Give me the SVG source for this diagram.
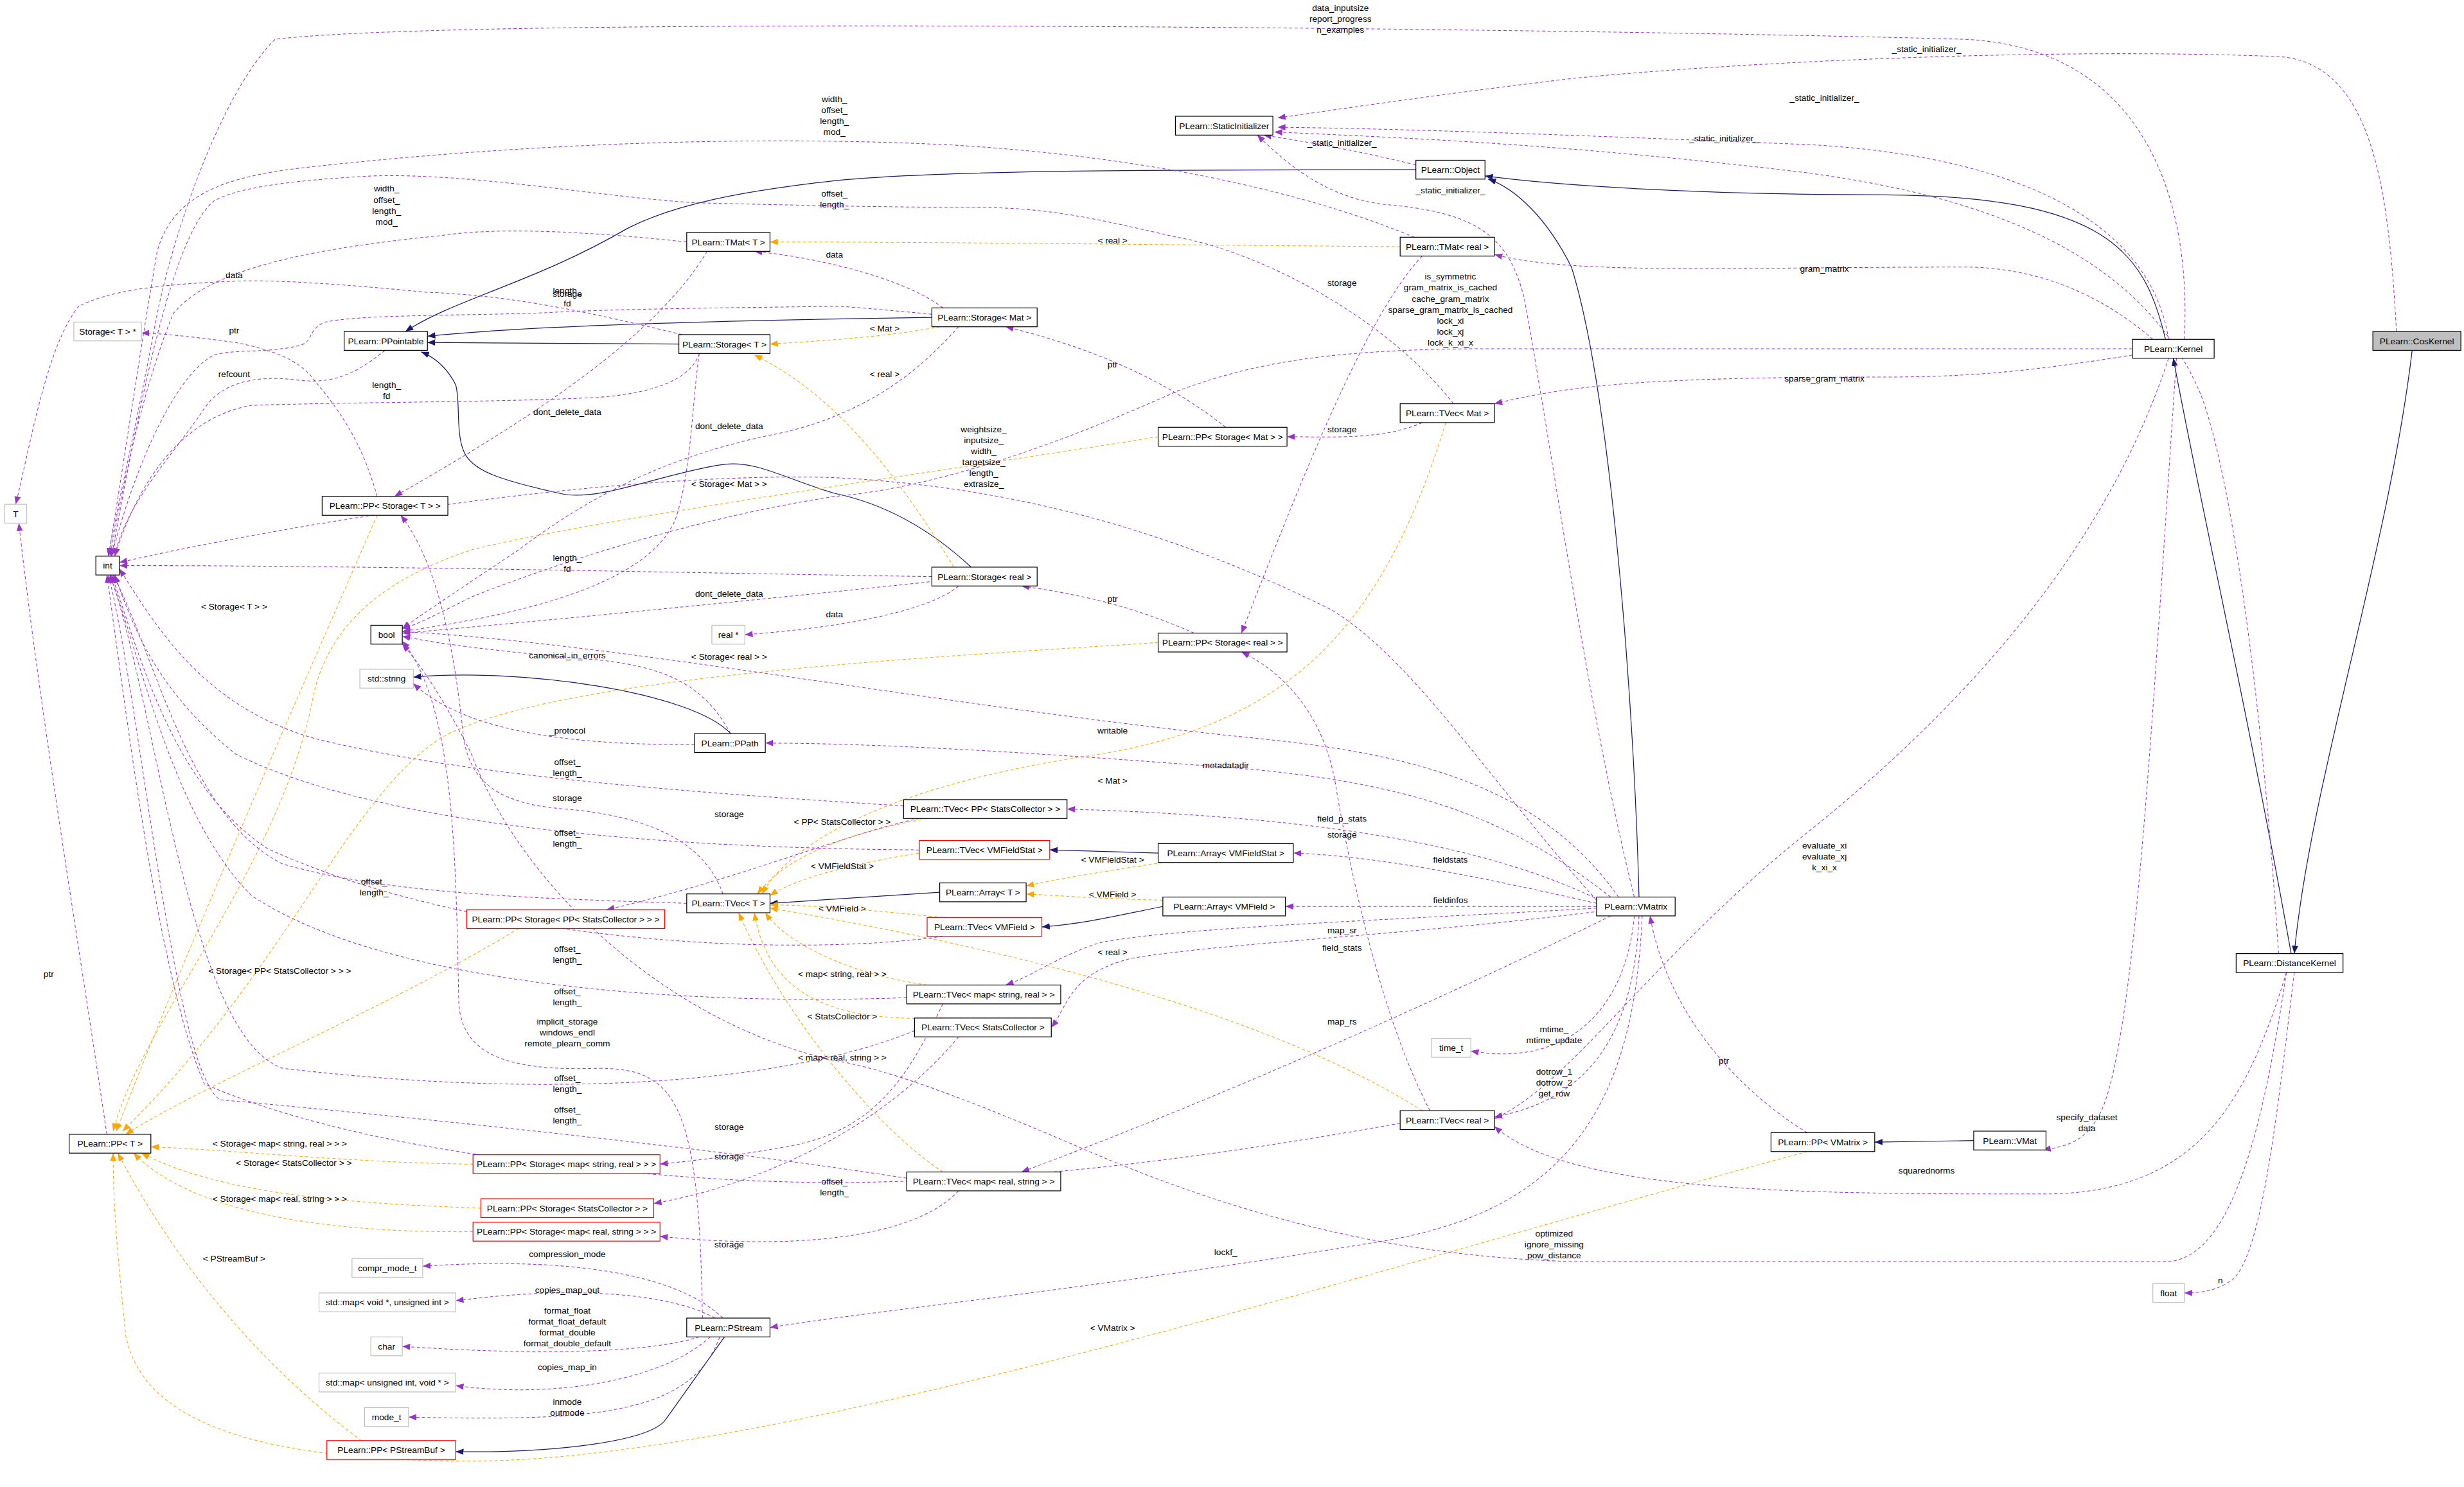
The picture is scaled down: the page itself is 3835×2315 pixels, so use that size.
<svg xmlns="http://www.w3.org/2000/svg" width="3835" height="2315" viewBox="0 0 3835 2315">
<style>
text{font-family:"Liberation Sans",Arial,sans-serif;font-size:5.6px;fill:#000;text-anchor:middle}
.n rect{fill:#fff;stroke:#000;stroke-width:0.5}
.g rect{fill:#fff;stroke:#bfbfbf;stroke-width:0.5}
.r rect{fill:#fff;stroke:#ff0000;stroke-width:0.5}
.c rect{fill:#bfbfbf;stroke:#000;stroke-width:0.5}
.m{fill:none;stroke:#9a32cd;stroke-width:0.42;stroke-dasharray:2,1.5;marker-end:url(#ap)}
.t{fill:none;stroke:#ffa500;stroke-width:0.42;stroke-dasharray:2,1.5;marker-end:url(#ao)}
.i{fill:none;stroke:#191970;stroke-width:0.5;marker-end:url(#an)}
</style>
<defs>
<marker id="ap" markerUnits="userSpaceOnUse" markerWidth="5" markerHeight="4" refX="5" refY="2" orient="auto"><path d="M0,0L5,2L0,4z" fill="#9a32cd"/></marker>
<marker id="ao" markerUnits="userSpaceOnUse" markerWidth="5" markerHeight="4" refX="5" refY="2" orient="auto"><path d="M0,0L5,2L0,4z" fill="#ffa500"/></marker>
<marker id="an" markerUnits="userSpaceOnUse" markerWidth="5" markerHeight="4" refX="5" refY="2" orient="auto"><path d="M0,0L5,2L0,4z" fill="#191970"/></marker>
</defs>
<rect width="3835" height="2315" fill="#fff"/>
<g transform="scale(2.4458)">
<g id="edges">
<path class="i" d="M1535,223C1520,350 1470,500 1460,607"/>
<path class="i" d="M1458,607C1430,450 1400,320 1383,228"/>
<path class="i" d="M1378,216C1365,160 1340,125 1200,124C1080,124 990,118 945,112"/>
<path class="i" d="M1043,571C1040,450 1025,250 1000,170C985,140 965,120 947,114"/>
<path class="i" d="M901,108C750,108 600,108 531,115C470,122 430,130 400,145C340,180 290,190 258,211"/>
<path class="i" d="M593,202C450,204 330,208 272,214"/>
<path class="i" d="M432,219L272,218"/>
<path class="i" d="M618,361C590,335 560,320 531,314C500,305 480,292 458,296C420,302 380,320 356,314C320,306 300,300 295,287C290,275 293,255 290,245C285,235 278,228 268,224"/>
<path class="i" d="M598,568L490,575"/>
<path class="i" d="M737,543L668,541"/>
<path class="i" d="M740,577C710,583 690,588 663,590"/>
<path class="i" d="M461,851L424,903C415,918 350,925 290,924"/>
<path class="i" d="M1256,726L1193,727"/>
<path class="i" d="M465,467C440,440 330,425 263,431"/>
<path class="t" d="M891,157C750,156 600,154 490,154"/>
<path class="t" d="M598,208C560,215 520,217 490,219"/>
<path class="t" d="M607,361C570,300 530,250 480,226"/>
<path class="t" d="M737,278C600,300 380,330 300,350C240,370 210,400 200,440C180,550 90,650 72,720"/>
<path class="t" d="M240,328C200,420 120,600 74,720"/>
<path class="t" d="M737,409C600,418 350,430 280,470C220,510 180,620 78,720"/>
<path class="t" d="M920,269C880,400 820,460 700,480C560,500 500,540 485,569"/>
<path class="t" d="M590,521C540,530 500,545 482,569"/>
<path class="t" d="M585,543C540,550 505,560 490,570"/>
<path class="t" d="M740,549C700,555 670,560 653,564"/>
<path class="t" d="M740,573C700,572 670,570 653,569"/>
<path class="t" d="M600,584C560,580 520,576 490,576"/>
<path class="t" d="M905,707C800,640 620,600 490,578"/>
<path class="t" d="M590,627C540,620 500,600 487,581"/>
<path class="t" d="M600,648C540,650 490,640 480,581"/>
<path class="t" d="M600,746C560,720 500,650 470,581"/>
<path class="t" d="M330,591C250,640 130,690 80,722"/>
<path class="t" d="M301,741C220,740 150,732 96,730"/>
<path class="t" d="M306,769C220,766 140,760 90,734"/>
<path class="t" d="M301,784C200,785 120,770 85,734"/>
<path class="t" d="M230,917C180,880 120,820 75,734"/>
<path class="t" d="M1150,733C900,800 500,930 300,930C150,930 90,900 80,850C75,800 72,770 72,734"/>
<path class="m" d="M901,105C860,95 830,90 804,86"/>
<path class="m" d="M1380,216C1370,150 1300,100 1150,92C1000,86 900,82 813,81"/>
<path class="m" d="M1525,211C1520,120 1510,40 1450,36C1300,30 1100,40 1000,50C900,62 850,70 813,75"/>
<path class="m" d="M1040,571C1010,450 990,300 970,190C960,150 940,135 880,130C840,125 815,100 800,86"/>
<path class="m" d="M1450,607C1440,450 1420,300 1400,250C1370,180 1300,130 1150,110C1000,92 900,88 811,84"/>
<path class="m" d="M1390,216C1395,120 1360,30 1250,25C1000,18 300,10 175,25C140,60 110,150 100,200C85,280 75,320 69,354"/>
<path class="m" d="M437,154C380,148 320,144 280,150C180,160 130,175 110,200C90,250 78,310 70,354"/>
<path class="m" d="M900,151C850,130 750,100 600,92C450,85 300,95 200,106C140,112 110,125 100,160C88,230 78,300 69,354"/>
<path class="m" d="M925,257C880,200 800,160 749,151C700,140 670,132 620,132C560,132 480,130 441,129C380,125 300,110 237,112C180,115 150,120 136,128C110,150 90,250 71,354"/>
<path class="m" d="M434,213C360,195 320,188 271,186C210,180 170,178 149,179C100,181 70,185 50,195C30,220 20,280 10,321"/>
<path class="m" d="M600,196C580,180 530,165 480,160"/>
<path class="m" d="M593,200C560,197 540,195 531,195C450,196 380,197 349,199C300,201 230,200 207,205C195,210 200,218 190,220C170,225 150,222 136,226C110,240 85,300 71,354"/>
<path class="m" d="M905,269C880,280 850,278 819,278"/>
<path class="m" d="M780,272C740,240 690,220 640,208"/>
<path class="m" d="M240,316C230,280 215,260 200,242C190,228 170,222 150,218C120,214 100,212 90,212"/>
<path class="m" d="M245,223C230,235 215,245 190,242C160,238 140,245 130,260C110,290 80,320 73,354"/>
<path class="m" d="M445,225C440,240 420,250 380,253C320,256 220,256 160,258C120,265 90,300 73,354"/>
<path class="m" d="M445,225C440,260 440,300 430,330C410,380 300,395 256,402"/>
<path class="m" d="M610,208C590,230 560,260 500,275C420,290 370,320 330,350C300,370 270,390 256,400"/>
<path class="m" d="M450,160C420,210 350,260 251,316"/>
<path class="m" d="M593,367C450,365 250,360 76,360"/>
<path class="m" d="M595,370C500,380 350,395 256,403"/>
<path class="m" d="M610,373C590,390 530,400 474,404"/>
<path class="m" d="M760,403C730,390 700,380 650,373"/>
<path class="m" d="M905,163C870,200 830,300 790,403"/>
<path class="m" d="M910,707C880,650 860,560 850,500C840,440 800,420 790,415"/>
<path class="m" d="M465,467C450,440 430,425 380,420C320,415 280,410 256,405"/>
<path class="m" d="M442,474C380,474 300,470 263,435"/>
<path class="m" d="M1030,571C980,500 900,480 800,470C600,450 400,410 256,402"/>
<path class="m" d="M1025,571C960,520 900,500 800,490C650,478 550,473 487,473"/>
<path class="m" d="M1018,573C950,540 850,520 679,515"/>
<path class="m" d="M1016,575C950,560 880,545 823,543"/>
<path class="m" d="M1016,577L818,577"/>
<path class="m" d="M1016,578C900,585 750,590 700,600C670,610 660,620 640,627"/>
<path class="m" d="M1018,580C900,595 780,600 720,610C680,620 680,640 669,654"/>
<path class="m" d="M1025,583C950,620 800,690 650,746"/>
<path class="m" d="M1040,583C1035,640 1000,680 936,669"/>
<path class="m" d="M1043,583C1040,660 1010,700 951,711"/>
<path class="m" d="M1045,583C1040,700 1000,770 880,790C700,820 550,835 490,845"/>
<path class="m" d="M1150,721C1100,690 1060,640 1050,583"/>
<path class="m" d="M1016,573C950,500 900,420 847,388C750,340 650,310 531,304C400,300 200,330 76,358"/>
<path class="m" d="M1357,222L950,222C850,222 800,230 749,249C680,280 600,310 531,316C440,330 350,360 300,380C280,390 265,398 256,400"/>
<path class="m" d="M1370,216C1340,190 1300,170 1250,170C1100,170 1000,175 951,162"/>
<path class="m" d="M1357,226C1300,235 1260,240 1200,240C1050,240 1000,245 951,257"/>
<path class="m" d="M1380,228C1340,350 1250,450 1150,530C1050,610 1000,690 951,712"/>
<path class="m" d="M1385,228C1370,450 1360,640 1340,700C1330,730 1310,730 1300,732"/>
<path class="m" d="M1455,619C1430,700 1400,760 1300,760C1150,760 1000,760 951,717"/>
<path class="m" d="M1455,619C1440,720 1420,800 1380,803L1000,803C900,800 800,780 684,729C600,693 560,680 531,675C420,650 330,560 300,480C280,440 265,420 256,410"/>
<path class="m" d="M1460,619C1450,700 1440,800 1420,815C1410,822 1400,823 1390,823"/>
<path class="m" d="M460,569C450,540 420,520 360,515C320,512 300,500 295,470C290,420 280,360 255,328"/>
<path class="m" d="M585,521C540,530 470,560 386,579"/>
<path class="m" d="M575,513C450,505 300,495 200,470C130,450 100,400 76,362"/>
<path class="m" d="M585,541C450,540 250,530 150,480C100,440 85,400 73,366"/>
<path class="m" d="M437,575C350,572 250,570 180,550C120,520 100,420 72,366"/>
<path class="m" d="M600,596C500,610 300,600 170,540C110,500 90,420 71,366"/>
<path class="m" d="M577,635C450,640 250,630 160,570C110,520 90,420 70,366"/>
<path class="m" d="M447,839C445,700 430,680 380,680C320,682 295,670 292,640C290,550 290,450 256,408"/>
<path class="m" d="M582,656C500,690 350,700 180,680C120,660 100,450 70,366"/>
<path class="m" d="M577,750C450,730 250,710 140,700C110,680 90,450 69,366"/>
<path class="m" d="M891,715C750,740 600,760 450,750C300,740 200,720 130,690C100,620 80,450 68,366"/>
<path class="m" d="M600,639C580,680 560,720 500,730C460,737 430,740 420,741"/>
<path class="m" d="M610,660C560,720 480,755 416,766"/>
<path class="m" d="M610,758C580,790 500,795 420,787"/>
<path class="m" d="M460,839C430,810 360,800 269,806"/>
<path class="m" d="M455,839C420,820 350,820 290,828"/>
<path class="m" d="M445,851C400,865 300,860 256,857"/>
<path class="m" d="M452,851C420,880 350,890 290,882"/>
<path class="m" d="M458,851C440,900 380,905 260,902"/>
<path class="m" d="M68,722C50,600 25,450 12,333"/>
</g>
<g id="labels">
<text x="853" y="7">data_inputsize</text><text x="853" y="14">report_progress</text><text x="853" y="21">n_examples</text>
<text x="1226" y="33">_static_initializer_</text>
<text x="1161" y="64">_static_initializer_</text>
<text x="1097" y="90">_static_initializer_</text>
<text x="854" y="93">_static_initializer_</text>
<text x="923" y="123">_static_initializer_</text>
<text x="531" y="65">width_</text><text x="531" y="72">offset_</text><text x="531" y="79">length_</text><text x="531" y="86">mod_</text>
<text x="246" y="122">width_</text><text x="246" y="129">offset_</text><text x="246" y="136">length_</text><text x="246" y="143">mod_</text>
<text x="531" y="125">offset_</text><text x="531" y="132">length_</text>
<text x="708" y="155">&lt; real &gt;</text>
<text x="531" y="164">data</text>
<text x="1161" y="173">gram_matrix</text>
<text x="854" y="182">storage</text>
<text x="149" y="177">data</text>
<text x="361" y="187">length_</text><text x="361" y="189">storage</text><text x="361" y="195">fd</text>
<text x="923" y="178">is_symmetric</text><text x="923" y="185">gram_matrix_is_cached</text><text x="923" y="192">cache_gram_matrix</text><text x="923" y="199">sparse_gram_matrix_is_cached</text><text x="923" y="206">lock_xi</text><text x="923" y="213">lock_xj</text><text x="923" y="220">lock_k_xi_x</text>
<text x="149" y="212">ptr</text>
<text x="563" y="211">&lt; Mat &gt;</text>
<text x="708" y="234">ptr</text>
<text x="149" y="240">refcount</text>
<text x="563" y="240">&lt; real &gt;</text>
<text x="1161" y="243">sparse_gram_matrix</text>
<text x="246" y="247">length_</text><text x="246" y="254">fd</text>
<text x="361" y="264">dont_delete_data</text>
<text x="464" y="273">dont_delete_data</text>
<text x="854" y="275">storage</text>
<text x="626" y="275">weightsize_</text><text x="626" y="282">inputsize_</text><text x="626" y="289">width_</text><text x="626" y="296">targetsize_</text><text x="626" y="303">length_</text><text x="626" y="310">extrasize_</text>
<text x="464" y="310">&lt; Storage&lt; Mat &gt; &gt;</text>
<text x="361" y="357">length_</text><text x="361" y="364">fd</text>
<text x="464" y="380">dont_delete_data</text>
<text x="708" y="383">ptr</text>
<text x="149" y="388">&lt; Storage&lt; T &gt; &gt;</text>
<text x="531" y="393">data</text>
<text x="464" y="420">&lt; Storage&lt; real &gt; &gt;</text>
<text x="361" y="419">canonical_in_errors</text>
<text x="361" y="467">_protocol</text>
<text x="708" y="467">writable</text>
<text x="361" y="487">offset_</text><text x="361" y="494">length_</text>
<text x="780" y="489">metadatadir</text>
<text x="708" y="499">&lt; Mat &gt;</text>
<text x="361" y="510">storage</text>
<text x="464" y="520">storage</text>
<text x="854" y="523">field_p_stats</text>
<text x="536" y="525">&lt; PP&lt; StatsCollector &gt; &gt;</text>
<text x="854" y="533">storage</text>
<text x="361" y="532">offset_</text><text x="361" y="539">length_</text>
<text x="1161" y="540">evaluate_xi</text><text x="1161" y="547">evaluate_xj</text><text x="1161" y="554">k_xi_x</text>
<text x="923" y="549">fieldstats</text>
<text x="708" y="549">&lt; VMFieldStat &gt;</text>
<text x="536" y="553">&lt; VMFieldStat &gt;</text>
<text x="238" y="563">offset_</text><text x="238" y="570">length_</text>
<text x="708" y="571">&lt; VMField &gt;</text>
<text x="923" y="575">fieldinfos</text>
<text x="536" y="580">&lt; VMField &gt;</text>
<text x="854" y="594">map_sr</text>
<text x="854" y="605">field_stats</text>
<text x="361" y="606">offset_</text><text x="361" y="613">length_</text>
<text x="708" y="608">&lt; real &gt;</text>
<text x="178" y="620">&lt; Storage&lt; PP&lt; StatsCollector &gt; &gt; &gt;</text>
<text x="31" y="622">ptr</text>
<text x="536" y="622">&lt; map&lt; string, real &gt; &gt;</text>
<text x="361" y="633">offset_</text><text x="361" y="640">length_</text>
<text x="536" y="649">&lt; StatsCollector &gt;</text>
<text x="361" y="652">implicit_storage</text><text x="361" y="659">windows_endl</text><text x="361" y="666">remote_plearn_comm</text>
<text x="854" y="652">map_rs</text>
<text x="989" y="657">mtime_</text><text x="989" y="664">mtime_update</text>
<text x="536" y="675">&lt; map&lt; real, string &gt; &gt;</text>
<text x="1097" y="677">ptr</text>
<text x="989" y="684">dotrow_1</text><text x="989" y="691">dotrow_2</text><text x="989" y="698">get_row</text>
<text x="361" y="688">offset_</text><text x="361" y="695">length_</text>
<text x="361" y="708">offset_</text><text x="361" y="715">length_</text>
<text x="1328" y="713">specify_dataset</text><text x="1328" y="720">data</text>
<text x="464" y="719">storage</text>
<text x="178" y="730">&lt; Storage&lt; map&lt; string, real &gt; &gt; &gt;</text>
<text x="464" y="738">storage</text>
<text x="187" y="742">&lt; Storage&lt; StatsCollector &gt; &gt;</text>
<text x="1226" y="747">squarednorms</text>
<text x="531" y="754">offset_</text><text x="531" y="761">length_</text>
<text x="178" y="765">&lt; Storage&lt; map&lt; real, string &gt; &gt; &gt;</text>
<text x="989" y="787">optimized</text><text x="989" y="794">ignore_missing</text><text x="989" y="801">pow_distance</text>
<text x="464" y="794">storage</text>
<text x="780" y="799">lockf_</text>
<text x="361" y="800">compression_mode</text>
<text x="149" y="803">&lt; PStreamBuf &gt;</text>
<text x="1413" y="817">n</text>
<text x="361" y="823">copies_map_out</text>
<text x="361" y="836">format_float</text><text x="361" y="843">format_float_default</text><text x="361" y="850">format_double</text><text x="361" y="857">format_double_default</text>
<text x="708" y="847">&lt; VMatrix &gt;</text>
<text x="361" y="872">copies_map_in</text>
<text x="361" y="894">inmode</text><text x="361" y="901">outmode</text>
</g>
<g id="CosKernel" class="c"><rect x="1510" y="211" width="56" height="12"/><text x="1538" y="219">PLearn::CosKernel</text></g>
<g id="StaticInitializer" class="n"><rect x="748" y="74" width="62" height="12"/><text x="779" y="82">PLearn::StaticInitializer</text></g>
<g id="Object" class="n"><rect x="901" y="102" width="44" height="12"/><text x="923" y="110">PLearn::Object</text></g>
<g id="TMatT" class="n"><rect x="437" y="148" width="53" height="12"/><text x="463.5" y="156">PLearn::TMat&lt; T &gt;</text></g>
<g id="TMatReal" class="n"><rect x="891" y="151" width="60" height="12"/><text x="921" y="159">PLearn::TMat&lt; real &gt;</text></g>
<g id="Kernel" class="n"><rect x="1357" y="216" width="52" height="12"/><text x="1383" y="224">PLearn::Kernel</text></g>
<g id="StorageTptr" class="g"><rect x="47" y="205" width="43" height="12"/><text x="68.5" y="213">Storage&lt; T &gt; *</text></g>
<g id="PPointable" class="n"><rect x="219" y="211" width="53" height="12"/><text x="245.5" y="219">PLearn::PPointable</text></g>
<g id="StorageT" class="n"><rect x="432" y="213" width="58" height="12"/><text x="461" y="221">PLearn::Storage&lt; T &gt;</text></g>
<g id="StorageMat" class="n"><rect x="593" y="196" width="67" height="12"/><text x="626.5" y="204">PLearn::Storage&lt; Mat &gt;</text></g>
<g id="TVecMat" class="n"><rect x="891" y="257" width="60" height="12"/><text x="921" y="265">PLearn::TVec&lt; Mat &gt;</text></g>
<g id="PPStorageMat" class="n"><rect x="737" y="272" width="82" height="12"/><text x="778" y="280">PLearn::PP&lt; Storage&lt; Mat &gt; &gt;</text></g>
<g id="T" class="g"><rect x="3" y="321" width="14" height="12"/><text x="10" y="329">T</text></g>
<g id="PPStorageT" class="n"><rect x="205" y="316" width="80" height="12"/><text x="245" y="324">PLearn::PP&lt; Storage&lt; T &gt; &gt;</text></g>
<g id="int" class="n"><rect x="61" y="354" width="15" height="12"/><text x="68.5" y="362">int</text></g>
<g id="StorageReal" class="n"><rect x="593" y="361" width="67" height="12"/><text x="626.5" y="369">PLearn::Storage&lt; real &gt;</text></g>
<g id="bool" class="n"><rect x="236" y="398" width="20" height="12"/><text x="246" y="406">bool</text></g>
<g id="realptr" class="g"><rect x="453" y="398" width="21" height="12"/><text x="463.5" y="406">real *</text></g>
<g id="PPStorageReal" class="n"><rect x="737" y="403" width="82" height="12"/><text x="778" y="411">PLearn::PP&lt; Storage&lt; real &gt; &gt;</text></g>
<g id="stdstring" class="g"><rect x="229" y="426" width="34" height="12"/><text x="246" y="434">std::string</text></g>
<g id="PPath" class="n"><rect x="442" y="467" width="45" height="12"/><text x="464.5" y="475">PLearn::PPath</text></g>
<g id="TVecPPSC" class="n"><rect x="575" y="509" width="104" height="12"/><text x="627" y="517">PLearn::TVec&lt; PP&lt; StatsCollector &gt; &gt;</text></g>
<g id="TVecVMFieldStat" class="r"><rect x="585" y="535" width="83" height="12"/><text x="626.5" y="543">PLearn::TVec&lt; VMFieldStat &gt;</text></g>
<g id="ArrayVMFieldStat" class="n"><rect x="737" y="537" width="86" height="12"/><text x="780" y="545">PLearn::Array&lt; VMFieldStat &gt;</text></g>
<g id="ArrayT" class="n"><rect x="598" y="562" width="55" height="12"/><text x="625.5" y="570">PLearn::Array&lt; T &gt;</text></g>
<g id="TVecT" class="n"><rect x="437" y="569" width="53" height="12"/><text x="463.5" y="577">PLearn::TVec&lt; T &gt;</text></g>
<g id="PPSPPSC" class="r"><rect x="297" y="579" width="126" height="12"/><text x="360" y="587">PLearn::PP&lt; Storage&lt; PP&lt; StatsCollector &gt; &gt; &gt;</text></g>
<g id="TVecVMField" class="r"><rect x="590" y="584" width="73" height="12"/><text x="626.5" y="592">PLearn::TVec&lt; VMField &gt;</text></g>
<g id="ArrayVMField" class="n"><rect x="740" y="571" width="78" height="12"/><text x="779" y="579">PLearn::Array&lt; VMField &gt;</text></g>
<g id="VMatrix" class="n"><rect x="1016" y="571" width="50" height="12"/><text x="1041" y="579">PLearn::VMatrix</text></g>
<g id="TVecMSR" class="n"><rect x="577" y="627" width="98" height="12"/><text x="626" y="635">PLearn::TVec&lt; map&lt; string, real &gt; &gt;</text></g>
<g id="TVecSC" class="n"><rect x="582" y="648" width="87" height="12"/><text x="625.5" y="656">PLearn::TVec&lt; StatsCollector &gt;</text></g>
<g id="DistanceKernel" class="n"><rect x="1423" y="607" width="68" height="12"/><text x="1457" y="615">PLearn::DistanceKernel</text></g>
<g id="time_t" class="g"><rect x="911" y="661" width="25" height="12"/><text x="923.5" y="669">time_t</text></g>
<g id="TVecReal" class="n"><rect x="891" y="707" width="60" height="12"/><text x="921" y="715">PLearn::TVec&lt; real &gt;</text></g>
<g id="PPT" class="n"><rect x="44" y="722" width="52" height="12"/><text x="70" y="730">PLearn::PP&lt; T &gt;</text></g>
<g id="PPSMSR" class="r"><rect x="301" y="735" width="119" height="12"/><text x="360.5" y="743">PLearn::PP&lt; Storage&lt; map&lt; string, real &gt; &gt; &gt;</text></g>
<g id="PPVMatrix" class="n"><rect x="1127" y="721" width="66" height="12"/><text x="1160" y="729">PLearn::PP&lt; VMatrix &gt;</text></g>
<g id="VMat" class="n"><rect x="1256" y="720" width="46" height="12"/><text x="1279" y="728">PLearn::VMat</text></g>
<g id="TVecMRS" class="n"><rect x="577" y="746" width="98" height="12"/><text x="626" y="754">PLearn::TVec&lt; map&lt; real, string &gt; &gt;</text></g>
<g id="PPSSC" class="r"><rect x="306" y="763" width="110" height="12"/><text x="361" y="771">PLearn::PP&lt; Storage&lt; StatsCollector &gt; &gt;</text></g>
<g id="PPSMRS" class="r"><rect x="301" y="778" width="119" height="12"/><text x="360.5" y="786">PLearn::PP&lt; Storage&lt; map&lt; real, string &gt; &gt; &gt;</text></g>
<g id="compr_mode_t" class="g"><rect x="224" y="801" width="45" height="12"/><text x="246.5" y="809">compr_mode_t</text></g>
<g id="mapvoid" class="g"><rect x="203" y="823" width="87" height="12"/><text x="246.5" y="831">std::map&lt; void *, unsigned int &gt;</text></g>
<g id="float" class="g"><rect x="1370" y="817" width="20" height="12"/><text x="1380" y="825">float</text></g>
<g id="PStream" class="n"><rect x="437" y="839" width="53" height="12"/><text x="463.5" y="847">PLearn::PStream</text></g>
<g id="char" class="g"><rect x="236" y="851" width="20" height="12"/><text x="246" y="859">char</text></g>
<g id="mapuint" class="g"><rect x="203" y="874" width="87" height="12"/><text x="246.5" y="882">std::map&lt; unsigned int, void * &gt;</text></g>
<g id="mode_t" class="g"><rect x="232" y="896" width="28" height="12"/><text x="246" y="904">mode_t</text></g>
<g id="PPPStreamBuf" class="r"><rect x="208" y="917" width="82" height="12"/><text x="249" y="925">PLearn::PP&lt; PStreamBuf &gt;</text></g>
</g>
</svg>
